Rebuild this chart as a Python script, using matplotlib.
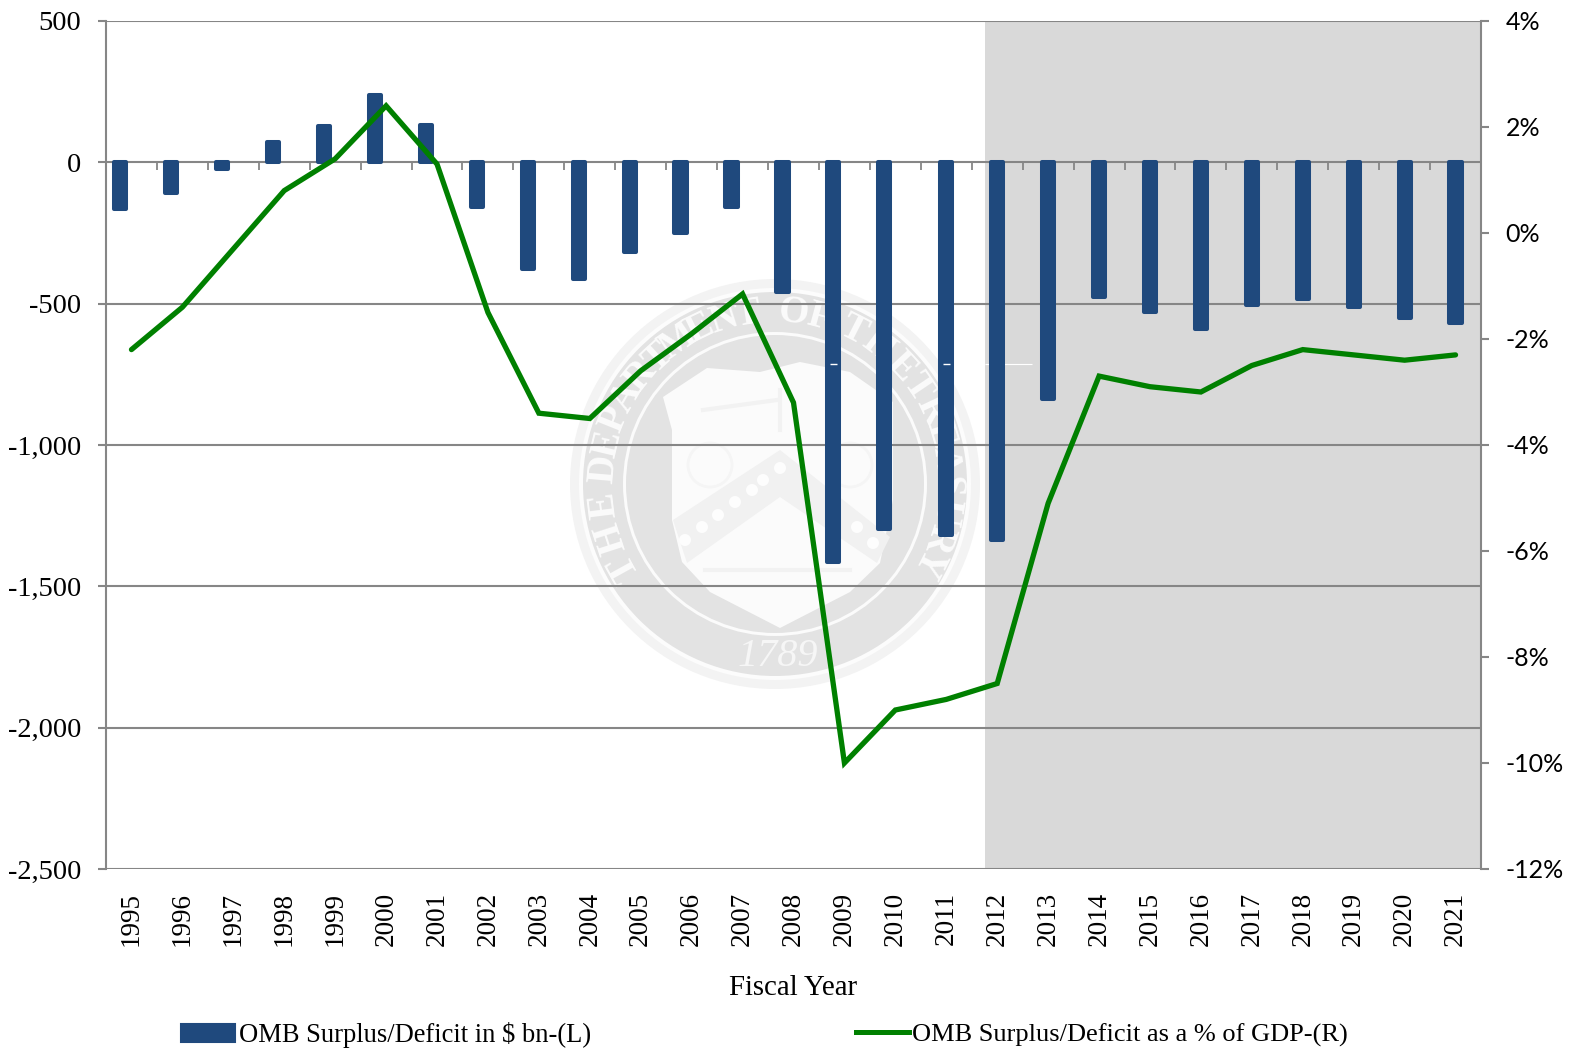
import numpy as np
import matplotlib
matplotlib.use('Agg')
import matplotlib.pyplot as plt
from matplotlib.patches import Circle, Polygon
from matplotlib.lines import Line2D
from matplotlib.patches import Patch

years = list(range(1995, 2022))
deficit_bn = [-164, -110, -25, 71, 128, 237, 131, -159, -379, -414, -318, -251, -159, -460,
              -1413, -1296, -1318, -1336, -836, -478, -528, -591, -506, -485, -513, -549, -567]
deficit_pct = [-2.2, -1.4, -0.3, 0.8, 1.4, 2.4, 1.3, -1.5, -3.4, -3.5, -2.6, -1.9, -1.15, -3.2,
               -10.0, -9.0, -8.8, -8.5, -5.1, -2.7, -2.9, -3.0, -2.5, -2.2, -2.3, -2.4, -2.3]
left_ticks = [500, 0, -500, -1000, -1500, -2000, -2500]
left_labels = ['500', '0', '-500', '-1,000', '-1,500', '-2,000', '-2,500']
right_ticks = [4, 2, 0, -2, -4, -6, -8, -10, -12]
right_labels = ['4%', '2%', '0%', '-2%', '-4%', '-6%', '-8%', '-10%', '-12%']
shade_start = 16.76  # grey block starts just before the 2012 bar
last_shifted_year = 2010  # bars up to here sit left of their category in the source
bar_shift = -0.218

W, H = 1570, 1050
BLUE = '#1f497d'
GREEN = '#008000'
GRID = '#868686'
SERIF = 'Liberation Serif'
SANS = 'Lato'

fig = plt.figure(figsize=(W / 100, H / 100), dpi=100, facecolor='white')


def draw_seal():
    # faint treasury seal behind the plot, laid out in pixel coordinates
    bg = fig.add_axes([0, 0, 1, 1], zorder=-1)
    bg.set_xlim(0, W)
    bg.set_ylim(H, 0)
    bg.axis('off')
    cx, cy = 775, 484
    bg.add_patch(Circle((cx, cy), 205, fc='#f3f3f3', ec='none'))
    bg.add_patch(Circle((cx, cy), 196, fc='#fcfcfc', ec='none'))
    bg.add_patch(Circle((cx, cy), 192, fc='#e3e3e3', ec='none'))
    bg.add_patch(Circle((cx, cy), 152, fc='#fbfbfb', ec='none'))
    bg.add_patch(Circle((cx, cy), 149, fc='#e3e3e3', ec='none'))
    shield = [(663, 397), (707, 368), (760, 372), (800, 362), (850, 372), (893, 402), (893, 500),
              (880, 563), (850, 592), (780, 628), (710, 592), (682, 562), (672, 520), (672, 430)]
    bg.add_patch(Polygon(shield, fc='#fbfbfb', ec='none'))
    chevron = [(673, 520), (780, 450), (890, 537), (877, 563), (780, 497), (687, 563)]
    bg.add_patch(Polygon(chevron, fc='#f1f1f1', ec='none'))
    for px, py in [(685, 540), (702, 527), (718, 515), (735, 502), (752, 490), (763, 480), (780, 468),
                   (857, 527), (873, 543)]:
        bg.add_patch(Circle((px, py), 6, fc='#fdfdfd', ec='none'))
    bg.plot([703, 777], [410, 400], color='#f2f2f2', lw=3)
    bg.plot([780, 780], [390, 430], color='#f2f2f2', lw=3)
    bg.add_patch(Circle((710, 465), 22, fc='none', ec='#f5f5f5', lw=2))
    bg.add_patch(Circle((850, 465), 22, fc='none', ec='#f5f5f5', lw=2))
    bg.plot([705, 850], [570, 570], color='#f2f2f2', lw=3)
    words = [('THE', 209, 187), ('DEPARTMENT', 175, 99), ('OF', 84, 75),
             ('THE', 63, 43), ('TREASURY', 34, -27)]
    for word, a0, a1 in words:
        angles = np.linspace(a0, a1, len(word))
        for ch, a in zip(word, angles):
            t = np.radians(a)
            bg.text(cx + 172 * np.cos(t), cy - 172 * np.sin(t), ch, rotation=a - 90, color='#fbfbfb',
                    fontsize=28, fontweight='bold', family=SERIF, ha='center', va='center',
                    rotation_mode='anchor')
    bg.text(778, 657, '1789', color='#f6f6f6', fontsize=29, family=SERIF, style='italic',
            ha='center', va='center')


draw_seal()

ax = fig.add_axes([106 / W, 1 - 869 / H, (1481 - 106) / W, (869 - 21) / H])
ax.patch.set_visible(False)
x = np.arange(len(years))
x_bars = x + bar_shift * (np.array(years) <= last_shifted_year)

ax.axvspan(shade_start, 26.5, color='#d9d9d9', lw=0, zorder=0)
ax.hlines(left_ticks, -0.5, 26.5, color=GRID, lw=1.5, zorder=1)
ax.bar(x_bars, deficit_bn, width=0.24, color=BLUE, edgecolor=BLUE, linewidth=2.9, joinstyle='round', zorder=2)

# small white scan artefacts in the source image
ax.hlines(-713, 16.76, 17.68, color='white', lw=0.8, zorder=1.5)
ax.hlines([-713, -713], [13.72, 15.93], [13.85, 16.07], color='white', lw=1, zorder=3)

ax.set_xlim(-0.5, 26.5)
ax.set_ylim(-2500, 500)
ax.set_xticks(x)
ax.set_xticklabels(years, rotation=90, fontsize=19.5, family=SERIF)
ax.tick_params(axis='x', length=0, pad=16.5)
ax.set_yticks(left_ticks)
ax.set_yticklabels(left_labels, fontsize=20.5, family=SERIF)
ax.tick_params(axis='y', length=5.8, width=1.5, color=GRID, pad=12)
for name in ['top', 'right', 'bottom']:
    ax.spines[name].set_visible(False)
ax.spines['left'].set_color(GRID)
ax.spines['left'].set_linewidth(1.5)
ax.set_xlabel('Fiscal Year', fontsize=20.8, family=SERIF, labelpad=21)

# category ticks hang from the zero line
zero_axis = ax.secondary_xaxis(2500 / 3000)
zero_axis.set_xticks(np.arange(-0.5, 27, 1))
zero_axis.tick_params(axis='x', direction='out', length=5.8, width=1.3, color=GRID, labelbottom=False, labeltop=False, top=False, bottom=True)
zero_axis.set_zorder(1.5)
for s in zero_axis.spines.values():
    s.set_visible(False)

ax2 = ax.twinx()
ax2.plot(x, deficit_pct, color=GREEN, lw=3.8, solid_joinstyle='miter', solid_capstyle='round')
ax2.set_ylim(-12, 4)
ax2.set_yticks(right_ticks)
ax2.set_yticklabels(right_labels, fontsize=18, family=SANS)
ax2.tick_params(axis='y', length=5.8, width=1.5, color=GRID, pad=12)
for name in ['top', 'left', 'bottom']:
    ax2.spines[name].set_visible(False)
ax2.spines['right'].set_color(GRID)
ax2.spines['right'].set_linewidth(1.5)

h1 = Patch(fc=BLUE, ec=BLUE, joinstyle='round', lw=1.5, label='OMB Surplus/Deficit in $ bn-(L)')
h2 = Line2D([0], [0], color=GREEN, lw=3.6, label='OMB Surplus/Deficit as a % of GDP-(R)')
fig.legend(handles=[h1], loc='center left', bbox_to_anchor=(181 / W, 1 - 1035 / H), frameon=False,
           prop={'family': SERIF, 'size': 19.1}, handlelength=2.05, handleheight=0.65, handletextpad=0.12,
           borderpad=0, borderaxespad=0)
fig.legend(handles=[h2], loc='center left', bbox_to_anchor=(856 / W, 1 - 1035 / H), frameon=False,
           prop={'family': SERIF, 'size': 19}, handlelength=2.0, handletextpad=0.12,
           borderpad=0, borderaxespad=0)

fig.savefig('out.png', dpi=100)
